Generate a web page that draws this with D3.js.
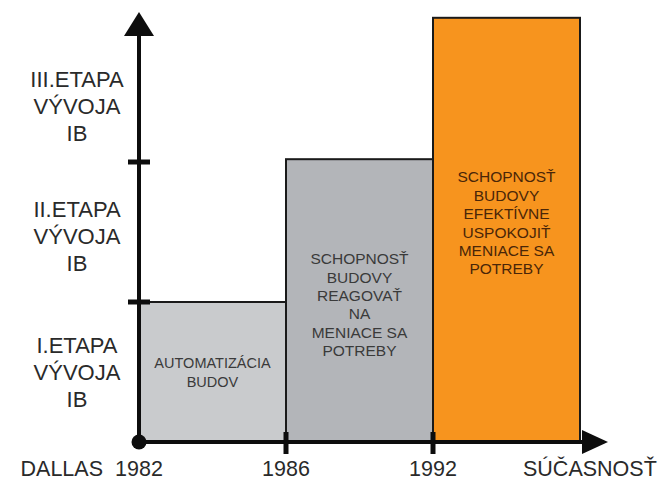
<!DOCTYPE html>
<html>
<head>
<meta charset="utf-8">
<script src="https://cdn.jsdelivr.net/npm/d3@7"></script>
<style>
  html, body { margin: 0; padding: 0; background: #fff; }
  svg { display: block; font-family: "Liberation Sans", Arial, sans-serif; }
</style>
</head>
<body>
<svg id="chart" width="668" height="480"></svg>
<script>
// ---- data ----
const stages = ["1982", "1986", "1992", "SÚČASNOSŤ"];
const startPrefix = "DALLAS";
const levelLabels = [
  ["I.ETAPA", "VÝVOJA", "IB"],
  ["II.ETAPA", "VÝVOJA", "IB"],
  ["III.ETAPA", "VÝVOJA", "IB"]
];
const levelTicks = [1, 2];
const barLevels = [1, 2.02, 3.03];
const barTexts = [
  ["AUTOMATIZÁCIA", "BUDOV"],
  ["SCHOPNOSŤ", "BUDOVY", "REAGOVAŤ", "NA", "MENIACE SA", "POTREBY"],
  ["SCHOPNOSŤ", "BUDOVY", "EFEKTÍVNE", "USPOKOJIŤ", "MENIACE SA", "POTREBY"]
];

// ---- styles ----
const barFills = ["#c9cbcd", "#b3b5b9", "#f7941e"];
const barTextColors = ["#3a3a3a", "#3a3a3a", "#4a2608"];
const barTextSizes = [14.5, 15.5, 15.5];
const barTextShift = [0, 4, -7];
const axisColor = "#0d0d0d";
const labelColor = "#2a2a2a";

const svg = d3.select("#chart");
const x = d3.scalePoint().domain(stages).range([139, 580]);
const y = d3.scaleLinear().domain([0, 3]).range([442, 22]);

// bars
const bars = barLevels.map((v, i) => ({ v, i, x0: x(stages[i]), x1: x(stages[i + 1]) }));
svg.selectAll("rect.bar").data(bars).enter().append("rect")
  .attr("class", "bar")
  .attr("x", d => d.x0)
  .attr("y", d => y(d.v))
  .attr("width", d => d.x1 - d.x0)
  .attr("height", d => y(0) - y(d.v))
  .attr("fill", d => barFills[d.i])
  .attr("stroke", "#1a1a1a")
  .attr("stroke-width", 2);

// bar texts
bars.forEach(d => {
  const lines = barTexts[d.i];
  const lh = d.i === 0 ? 19 : 18.4;
  const cx = (d.x0 + d.x1) / 2;
  const cy = (y(d.v) + y(0)) / 2 + barTextShift[d.i];
  const first = cy - (lines.length - 1) * lh / 2;
  svg.append("text")
    .attr("text-anchor", "middle")
    .attr("font-size", barTextSizes[d.i])
    .attr("fill", barTextColors[d.i])
    .selectAll("tspan").data(lines).enter().append("tspan")
    .attr("x", cx)
    .attr("y", (t, j) => first + j * lh + 5.5)
    .text(t => t);
});

// y axis
const ax = x(stages[0]);
svg.append("line").attr("x1", ax).attr("x2", ax)
  .attr("y1", y(0)).attr("y2", 34)
  .attr("stroke", axisColor).attr("stroke-width", 4);
svg.append("path")
  .attr("d", `M${ax},12 L${ax - 15},36 L${ax + 15},36 Z`)
  .attr("fill", axisColor);
svg.selectAll("line.ytick").data(levelTicks).enter().append("line")
  .attr("class", "ytick")
  .attr("x1", ax - 11).attr("x2", ax + 11)
  .attr("y1", d => y(d)).attr("y2", d => y(d))
  .attr("stroke", axisColor).attr("stroke-width", 5);

// y labels
const labelAt = i => (i < 2 ? i + 0.5 : 2.4);
levelLabels.forEach((lines, i) => {
  const cy = y(labelAt(i)) + (i === 1 ? 4 : 0);
  svg.append("text")
    .attr("text-anchor", "middle")
    .attr("font-size", 22)
    .attr("fill", labelColor)
    .selectAll("tspan").data(lines).enter().append("tspan")
    .attr("x", 77)
    .attr("y", (t, j) => cy + (j - 1) * 27 + 8)
    .text(t => t);
});

// x axis
const endX = x(stages[stages.length - 1]);
svg.append("line").attr("x1", ax).attr("x2", endX + 6)
  .attr("y1", y(0)).attr("y2", y(0))
  .attr("stroke", axisColor).attr("stroke-width", 4);
svg.append("path")
  .attr("d", `M${endX + 2},${y(0) - 12} L${endX + 28},${y(0)} L${endX + 2},${y(0) + 12} Z`)
  .attr("fill", axisColor);
svg.selectAll("line.xtick").data(stages.slice(1, 3)).enter().append("line")
  .attr("class", "xtick")
  .attr("x1", d => x(d)).attr("x2", d => x(d))
  .attr("y1", y(0) - 10).attr("y2", y(0) + 12)
  .attr("stroke", axisColor).attr("stroke-width", 5);
svg.append("circle").attr("cx", ax).attr("cy", y(0)).attr("r", 7.5).attr("fill", axisColor);

// x labels
const xlabY = 475.5;
svg.selectAll("text.xlab").data(stages.slice(0, 3)).enter().append("text")
  .attr("class", "xlab")
  .attr("x", d => x(d))
  .attr("y", xlabY)
  .attr("text-anchor", "middle")
  .attr("font-size", 21.5)
  .attr("fill", labelColor)
  .text(d => d);
svg.append("text")
  .attr("x", ax - 36).attr("y", xlabY)
  .attr("text-anchor", "end")
  .attr("font-size", 21.5)
  .attr("fill", labelColor)
  .text(startPrefix);
svg.append("text")
  .attr("x", endX - 57).attr("y", xlabY)
  .attr("text-anchor", "start")
  .attr("font-size", 21.5)
  .attr("fill", labelColor)
  .text(stages[stages.length - 1]);
</script>
</body>
</html>
